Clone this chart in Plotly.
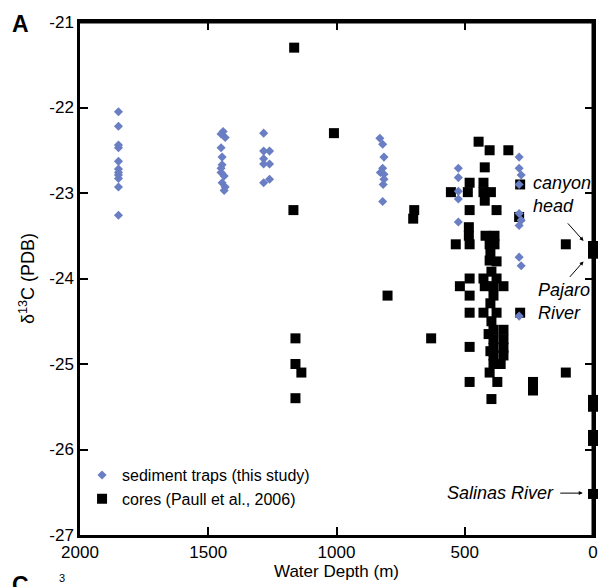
import plotly.graph_objects as go

# Sediment traps (this study): water depth (m), d13C (PDB)
trap_depth = [1850, 1850, 1850, 1850, 1850, 1850, 1850, 1850, 1850, 1850, 1850,
              1442, 1450, 1434, 1450, 1446, 1446, 1450, 1450, 1438, 1446, 1434, 1438,
              1284, 1284, 1261, 1284, 1284, 1261, 1261, 1284,
              831, 820, 815, 820, 829, 815, 815, 818, 820,
              525, 525, 525, 525, 525,
              288, 288, 280, 288, 288, 280, 288, 288, 280, 288]
trap_d13c = [-22.05, -22.22, -22.44, -22.47, -22.63, -22.72, -22.76, -22.79, -22.83, -22.93, -23.26,
             -22.28, -22.31, -22.35, -22.47, -22.58, -22.67, -22.71, -22.76, -22.80, -22.88, -22.93, -22.97,
             -22.30, -22.51, -22.51, -22.60, -22.66, -22.66, -22.84, -22.88,
             -22.36, -22.43, -22.58, -22.71, -22.76, -22.78, -22.84, -22.90, -23.10,
             -22.71, -22.82, -22.98, -23.07, -23.34,
             -22.58, -22.71, -22.79, -22.90, -23.24, -23.32, -23.38, -23.75, -23.85, -24.44]

# Cores (Paull et al., 2006)
core_depth = [1165, 1010, 1168, 1160, 1160, 1137, 1160, 697, 701, 801, 631,
              446, 403, 330, 422, 481, 427, 284, 554, 488, 427, 398, 422, 481, 376,
              288, 484, 484, 419, 384, 535, 481, 403, 384, 400, 403, 376, 396,
              481, 427, 376, 519, 422, 388, 349, 481, 388, 400, 481, 427, 376, 284,
              396, 388, 349, 407, 388, 349, 388, 349, 400, 388, 349, 388, 360,
              481, 403, 481, 373, 234, 234, 396, 106, 106,
              0, 0, 0, 0, 0, 0, 0]
core_d13c = [-21.30, -22.30, -23.20, -24.70, -25.00, -25.10, -25.40, -23.20, -23.30, -24.20, -24.70,
             -22.40, -22.50, -22.50, -22.70, -22.88, -22.88, -22.90, -22.99, -22.99, -22.99, -22.99, -23.09, -23.20, -23.20,
             -23.28, -23.40, -23.50, -23.50, -23.50, -23.60, -23.60, -23.60, -23.60, -23.69, -23.79, -23.80, -23.92,
             -24.00, -24.00, -24.00, -24.09, -24.09, -24.09, -24.09, -24.20, -24.20, -24.29, -24.40, -24.40, -24.40, -24.40,
             -24.50, -24.60, -24.60, -24.65, -24.71, -24.71, -24.81, -24.81, -24.85, -24.90, -24.90, -25.00, -25.00,
             -24.80, -25.10, -25.21, -25.21, -25.21, -25.31, -25.41, -23.60, -25.10,
             -23.62, -23.71, -25.42, -25.50, -25.83, -25.90, -26.52]

x_ticks = [2000, 1500, 1000, 500, 0]
y_ticks = [-27, -26, -25, -24, -23, -22, -21]

FONT = "Liberation Sans, Arial, sans-serif"

fig = go.Figure()
fig.add_trace(go.Scatter(
    x=core_depth, y=core_d13c, mode="markers", name="cores (Paull et al., 2006)",
    marker=dict(symbol="square", size=10, color="black"), cliponaxis=False))
fig.add_trace(go.Scatter(
    x=trap_depth, y=trap_d13c, mode="markers", name="sediment traps (this study)",
    marker=dict(symbol="diamond", size=7, color="#6a7ec4"), cliponaxis=False))

axis_common = dict(showline=True, linecolor="black", linewidth=2.5, mirror="allticks",
                   ticks="inside", ticklen=8, tickwidth=2, tickcolor="black",
                   showgrid=False, zeroline=False,
                   tickfont=dict(family=FONT, size=17, color="black"))

fig.update_xaxes(range=[2000, 0], tickvals=x_ticks, ticktext=[str(v) for v in x_ticks],
                 title=dict(text="Water Depth (m)", font=dict(family=FONT, size=17, color="black"),
                            standoff=2),
                 **axis_common)
fig.update_yaxes(range=[-27, -21], tickvals=y_ticks, ticktext=[str(v) for v in y_ticks],
                 title=dict(text="δ<sup>13</sup>C (PDB)", font=dict(family=FONT, size=18, color="black"),
                            standoff=10),
                 **axis_common)

ann_font = dict(family=FONT, size=18, color="black")
annotations = [
    dict(x=241, y=-23.02, text="<i>canyon<br>head</i>", showarrow=False, xanchor="left",
         yanchor="middle", align="left", font=ann_font),
    dict(x=37, y=-23.56, ax=-17, ay=-19, text="", showarrow=True, arrowhead=2,
         arrowsize=0.8, arrowwidth=1, arrowcolor="black"),
    dict(x=222, y=-24.27, text="<i>Pajaro<br>River</i>", showarrow=False, xanchor="left",
         yanchor="middle", align="left", font=ann_font),
    dict(x=37, y=-23.80, ax=-15, ay=17, text="", showarrow=True, arrowhead=2,
         arrowsize=0.8, arrowwidth=1, arrowcolor="black"),
    dict(x=145, y=-26.51, text="<i>Salinas River</i>", showarrow=False, xanchor="right",
         yanchor="middle", font=ann_font),
    dict(x=40, y=-26.51, ax=-24, ay=0, text="", showarrow=True, arrowhead=2,
         arrowsize=0.8, arrowwidth=1, arrowcolor="black"),
    dict(xref="paper", yref="paper", x=-0.137, y=1.025, xanchor="left", yanchor="top",
         text="<b>A</b>", showarrow=False, font=dict(family=FONT, size=23, color="black")),
    dict(xref="paper", yref="paper", x=-0.137, y=-0.068, xanchor="left", yanchor="top",
         text="<b>C</b>", showarrow=False, font=dict(family=FONT, size=23, color="black")),
    dict(xref="paper", yref="paper", x=-0.045, y=-0.068, xanchor="left", yanchor="top",
         text="3", showarrow=False, font=dict(family=FONT, size=11, color="black")),
]

fig.update_layout(
    width=609, height=587,
    margin=dict(l=80, r=11, t=22, b=49),
    paper_bgcolor="white", plot_bgcolor="white",
    showlegend=True,
    legend=dict(x=0.004, y=0.15, xanchor="left", yanchor="top", traceorder="reversed",
                bgcolor="rgba(0,0,0,0)", font=dict(family=FONT, size=16, color="black"),
                itemwidth=30),
    annotations=annotations,
    shapes=[dict(type="line", xref="paper", yref="paper", x0=0, y0=1, x1=1, y1=1,
                 line=dict(color="black", width=3), layer="above"),
            dict(type="line", xref="paper", yref="paper", x0=1, y0=0, x1=1, y1=1,
                 line=dict(color="black", width=3), layer="above")],
)

fig.write_html("out.html", config={"displayModeBar": False},
               post_script="document.body.style.margin='0';document.body.style.overflow='hidden';")
